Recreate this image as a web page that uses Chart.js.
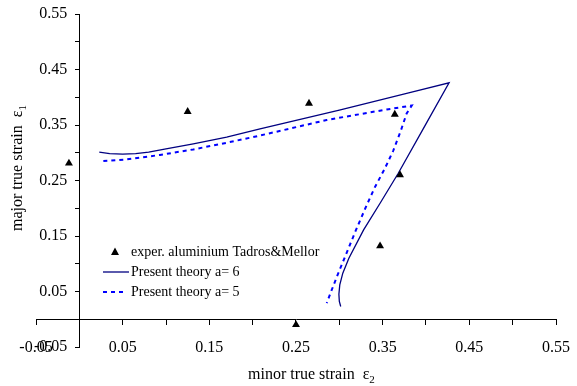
<!DOCTYPE html>
<html>
<head>
<meta charset="utf-8">
<script src="https://cdn.jsdelivr.net/npm/chart.js@4"></script>
<style>
  html, body { margin: 0; padding: 0; background: #fff; }
  canvas { display: block; }
</style>
</head>
<body>
<canvas id="strainChart" width="577" height="386"></canvas>
<script>
// measured points (minor strain e2, major strain e1)
const expX = [-0.012, 0.125, 0.265, 0.364, 0.370, 0.347, 0.250];
const expY = [0.281, 0.374, 0.389, 0.369, 0.260, 0.132, -0.010];

// theory curve a = 6
const a6X = [0.023, 0.035, 0.050, 0.065, 0.080, 0.100, 0.1315, 0.170, 0.2085, 0.300, 0.380, 0.4266,
             0.400, 0.368, 0.347, 0.328, 0.311, 0.304, 0.3005, 0.2995, 0.3000, 0.3016];
const a6Y = [0.301, 0.2985, 0.2975, 0.2985, 0.301, 0.307, 0.316, 0.328, 0.343, 0.377, 0.408, 0.426,
             0.352, 0.263, 0.209, 0.161, 0.110, 0.083, 0.062, 0.045, 0.032, 0.023];

// theory curve a = 5
const a5X = [0.0277, 0.0547, 0.093, 0.1315, 0.170, 0.2085, 0.2854, 0.3547, 0.3835,
             0.3777, 0.371, 0.362, 0.352, 0.341, 0.330, 0.319, 0.308, 0.298, 0.291, 0.2855];
const a5Y = [0.285, 0.288, 0.296, 0.306, 0.318, 0.331, 0.359, 0.378, 0.385,
             0.371, 0.340, 0.303, 0.270, 0.238, 0.200, 0.160, 0.118, 0.080, 0.052, 0.029];

// axis ticks
const xTickValues = [-0.05, 0, 0.05, 0.1, 0.15, 0.2, 0.25, 0.3, 0.35, 0.4, 0.45, 0.5, 0.55];
const xTickLabels = ['-0.05', '', '0.05', '', '0.15', '', '0.25', '', '0.35', '', '0.45', '', '0.55'];
const yTickValues = [-0.05, 0, 0.05, 0.1, 0.15, 0.2, 0.25, 0.3, 0.35, 0.4, 0.45, 0.5, 0.55];
const yTickLabels = ['-0.05', '', '0.05', '', '0.15', '', '0.25', '', '0.35', '', '0.45', '', '0.55'];

const seriesNames = ['exper. aluminium Tadros&Mellor', 'Present theory a= 6', 'Present theory a= 5'];

const SERIF = '"Liberation Serif", "Times New Roman", serif';

function toPoints(xs, ys) {
    return xs.map((x, i) => ({ x: x, y: ys[i] }));
}

// axis titles and the legend box drawn on top
const extrasPlugin = {
    id: 'extras',
    afterDraw(chart) {
        const ctx = chart.ctx;
        ctx.save();
        ctx.fillStyle = '#000';
        ctx.textBaseline = 'alphabetic';
        ctx.textAlign = 'left';

        // x title
        ctx.font = '16px ' + SERIF;
        let t = 'minor true strain  \u03b5';
        ctx.fillText(t, 248, 379);
        let w = ctx.measureText(t).width;
        ctx.font = '11px ' + SERIF;
        ctx.fillText('2', 248 + w, 383);

        // y title
        ctx.translate(21.5, 231);
        ctx.rotate(-Math.PI / 2);
        ctx.font = '16px ' + SERIF;
        t = 'major true strain  \u03b5';
        ctx.fillText(t, 0, 0);
        w = ctx.measureText(t).width;
        ctx.font = '11px ' + SERIF;
        ctx.fillText('1', w, 4);
        ctx.setTransform(1, 0, 0, 1, 0, 0);

        // legend
        const ds = chart.data.datasets;
        ctx.font = '14px ' + SERIF;
        ctx.textBaseline = 'middle';
        const rows = [252, 272, 292];

        // triangle marker
        ctx.beginPath();
        ctx.moveTo(115, 247.5);
        ctx.lineTo(119, 255);
        ctx.lineTo(111, 255);
        ctx.closePath();
        ctx.fill();
        ctx.fillText(ds[0].label, 131, rows[0]);

        ctx.strokeStyle = ds[1].borderColor;
        ctx.lineWidth = ds[1].borderWidth;
        ctx.beginPath();
        ctx.moveTo(103, rows[1]);
        ctx.lineTo(129, rows[1]);
        ctx.stroke();
        ctx.fillText(ds[1].label, 131, rows[1]);

        ctx.strokeStyle = ds[2].borderColor;
        ctx.lineWidth = ds[2].borderWidth;
        ctx.setLineDash(ds[2].borderDash);
        ctx.beginPath();
        ctx.moveTo(103, rows[2]);
        ctx.lineTo(126, rows[2]);
        ctx.stroke();
        ctx.setLineDash([]);
        ctx.fillText(ds[2].label, 131, rows[2]);

        ctx.restore();
    }
};

new Chart(document.getElementById('strainChart'), {
    type: 'scatter',
    data: {
        datasets: [
            {
                label: seriesNames[0],
                data: toPoints(expX, expY),
                pointStyle: 'triangle',
                pointRadius: 4.6,
                backgroundColor: '#000',
                borderColor: '#000',
                borderWidth: 0
            },
            {
                label: seriesNames[1],
                data: toPoints(a6X, a6Y),
                showLine: true,
                pointRadius: 0,
                borderColor: '#000080',
                borderWidth: 1.3,
                tension: 0,
                fill: false
            },
            {
                label: seriesNames[2],
                data: toPoints(a5X, a5Y),
                showLine: true,
                pointRadius: 0,
                borderColor: '#0000ff',
                borderWidth: 2,
                borderDash: [4, 4],
                tension: 0,
                fill: false
            }
        ]
    },
    options: {
        responsive: false,
        animation: false,
        layout: { padding: { left: 36, right: 21, top: 14, bottom: 39 } },
        plugins: {
            legend: { display: false },
            tooltip: { enabled: false }
        },
        scales: {
            x: {
                type: 'linear',
                position: { y: 0 },
                min: -0.05,
                max: 0.55,
                afterBuildTicks: s => { s.ticks = xTickValues.map(v => ({ value: v })); },
                // label padding would otherwise shrink the plot sideways
                afterFit: s => { s.paddingLeft = 0; s.paddingRight = 0; },
                ticks: {
                    autoSkip: false,
                    maxRotation: 0,
                    padding: 14,
                    color: '#000',
                    font: { family: SERIF, size: 16 },
                    callback: (v, i) => xTickLabels[i]
                },
                grid: { drawOnChartArea: false, tickLength: 5, color: '#000' },
                border: { color: '#000', width: 1 }
            },
            y: {
                type: 'linear',
                position: { x: 0 },
                min: -0.05,
                max: 0.55,
                afterBuildTicks: s => { s.ticks = yTickValues.map(v => ({ value: v })); },
                ticks: {
                    autoSkip: false,
                    color: '#000',
                    font: { family: SERIF, size: 16 },
                    // labels sit right-aligned on the axis line, so pad with spaces
                    callback: (v, i) => yTickLabels[i] ? yTickLabels[i] + '   ' : ''
                },
                grid: { drawOnChartArea: false, tickLength: 4, color: '#000' },
                border: { color: '#000', width: 1 }
            }
        }
    },
    plugins: [extrasPlugin]
});
</script>
</body>
</html>
